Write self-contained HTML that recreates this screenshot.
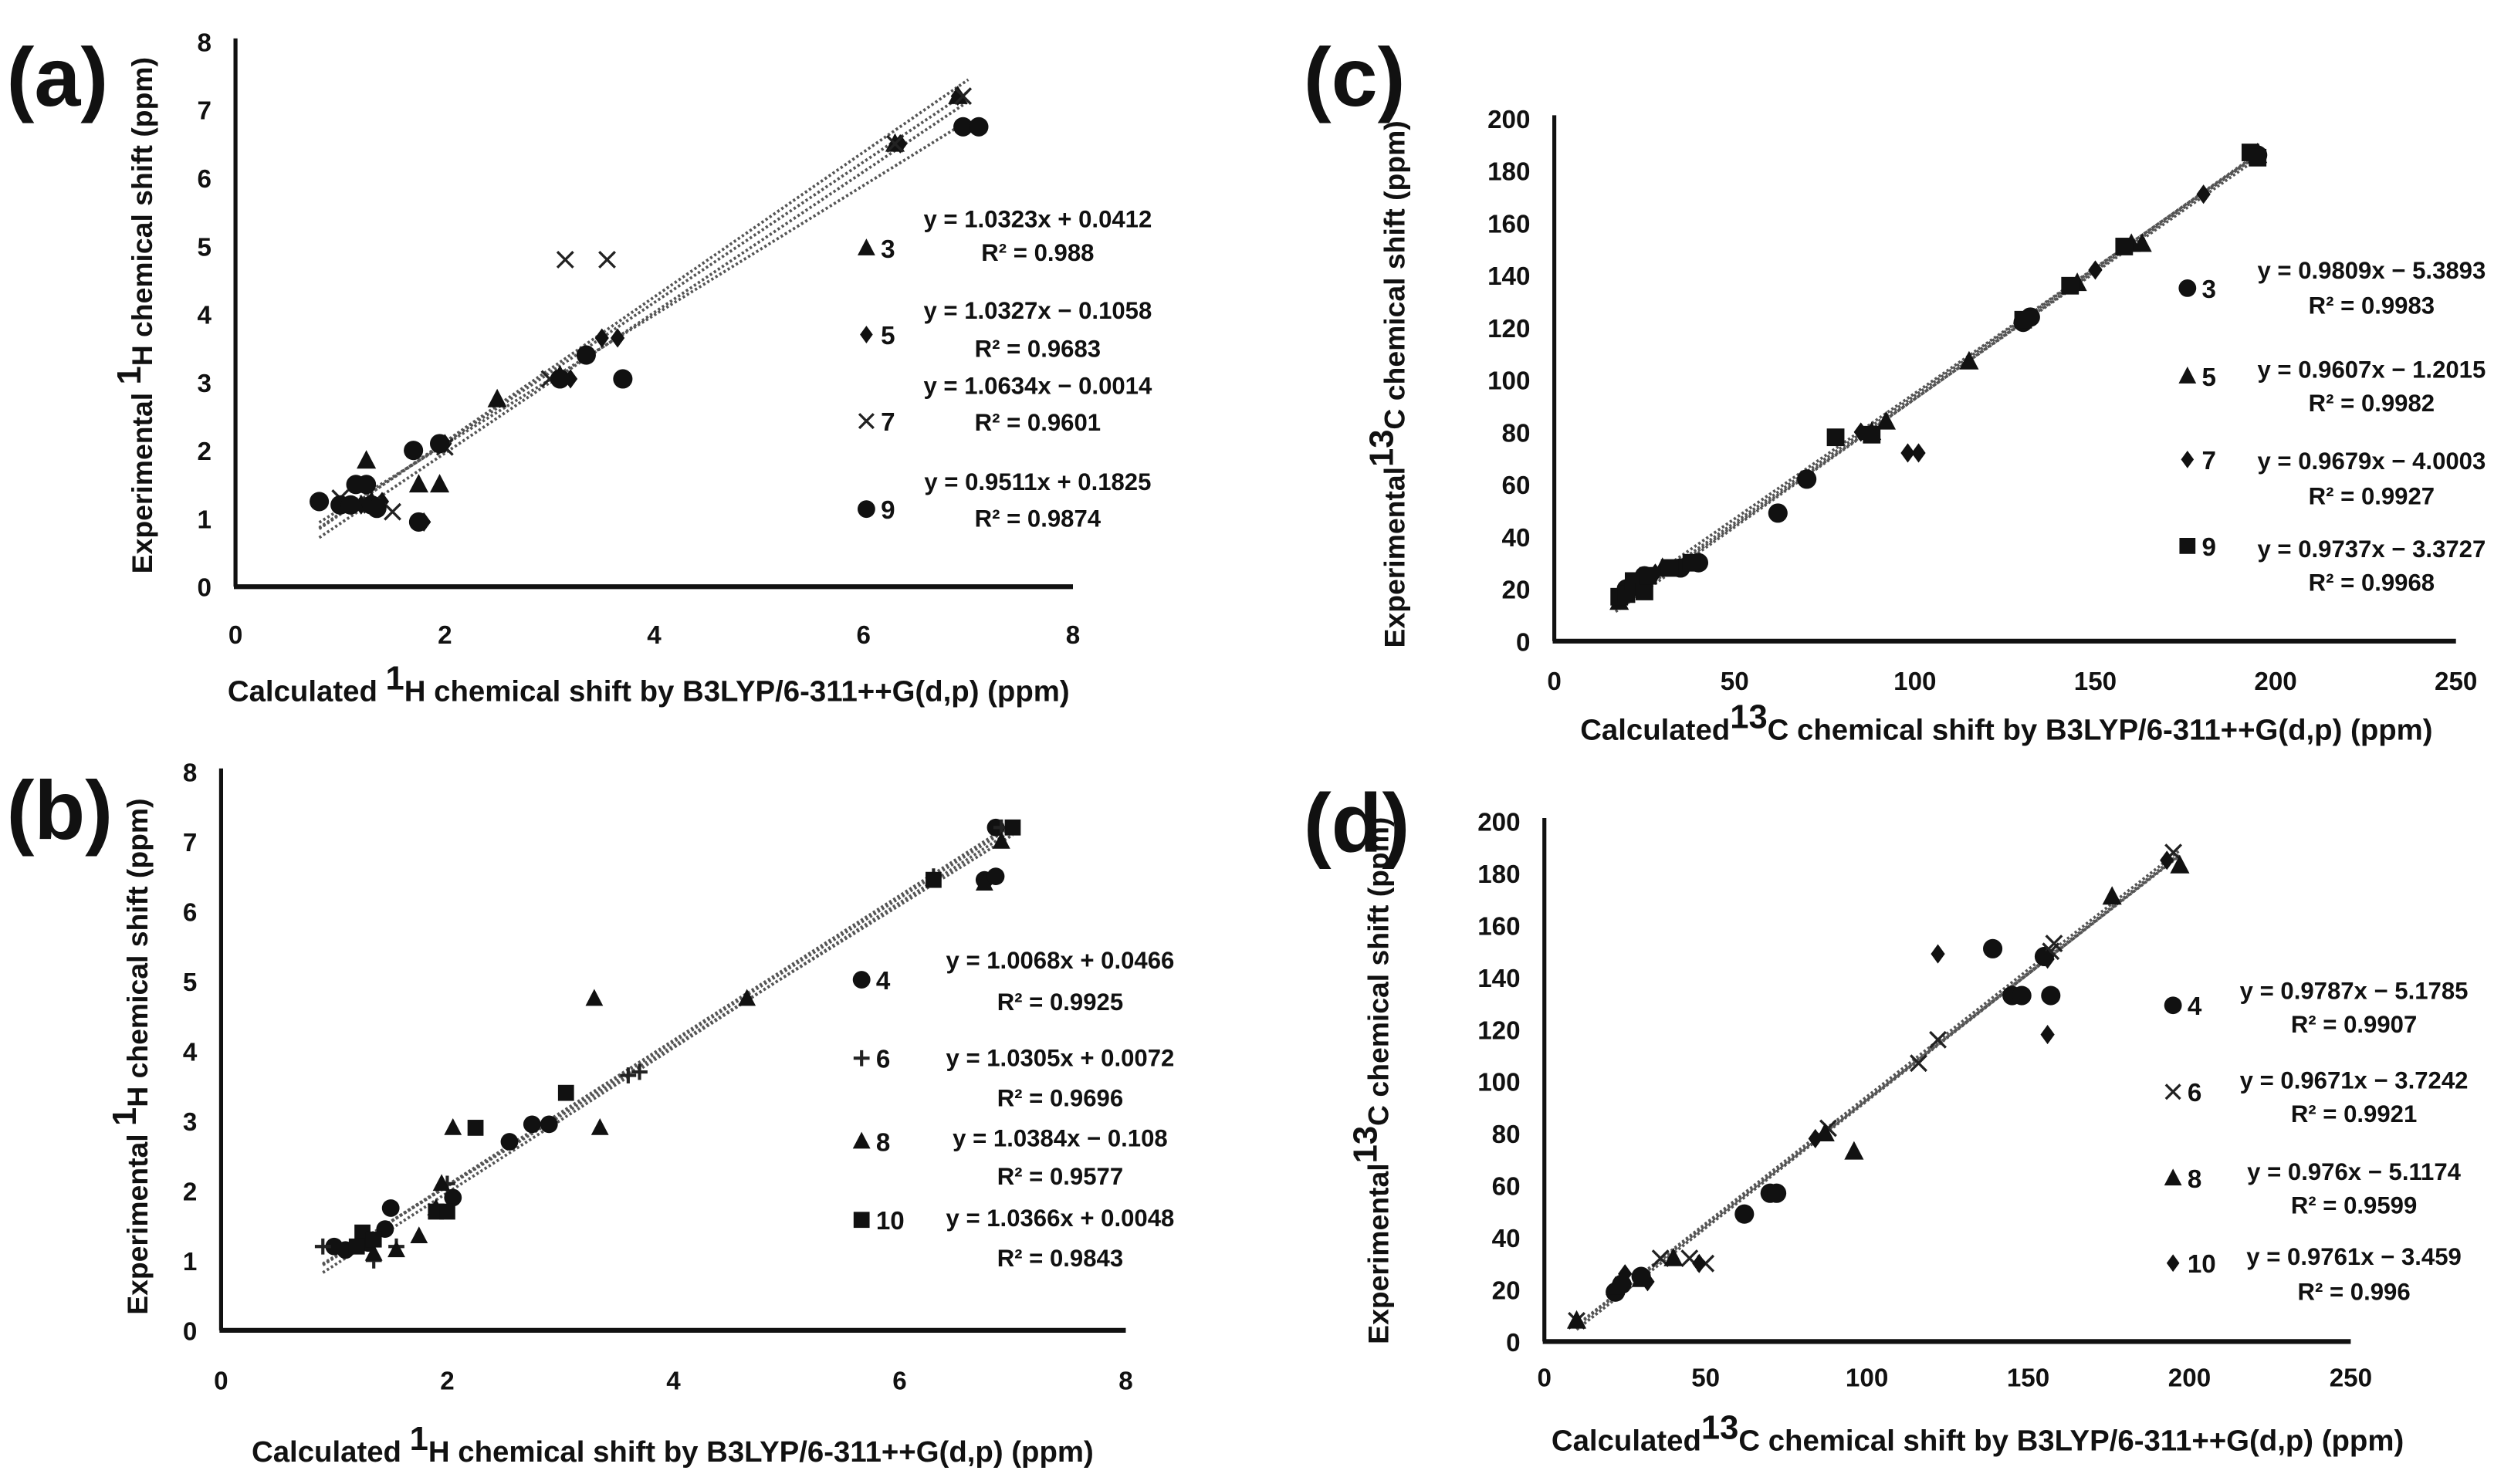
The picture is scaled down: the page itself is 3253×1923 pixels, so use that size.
<!DOCTYPE html>
<html><head><meta charset="utf-8"><style>
html,body{margin:0;padding:0;background:#fff;}
svg{display:block;}
text{font-family:"Liberation Sans Narrow","Liberation Sans",sans-serif;font-weight:bold;fill:#111;}
.yt{font-family:"Liberation Sans",sans-serif;}
</style></head><body>
<svg id="fig" width="3253" height="1923" viewBox="0 0 1568 927" xmlns="http://www.w3.org/2000/svg"></svg>
<script>
// ---------- data ----------
const a_s3_x=[1.25,1.75,1.95,2.5,6.3,6.9,1.3,3.1];
const a_s3_y=[1.85,1.5,1.5,2.75,6.5,7.2,1.25,3.1];
const a_s5_x=[1.2,1.4,2.0,3.5,3.65,6.35,6.9,1.75,1.8,3.2];
const a_s5_y=[1.2,1.25,2.1,3.65,3.65,6.5,7.2,0.95,0.95,3.05];
const a_s7_x=[1.0,1.5,2.0,3.0,3.15,3.55,6.95,6.3,1.3];
const a_s7_y=[1.3,1.1,2.05,3.05,4.8,4.8,7.2,6.5,1.2];
const a_s9_x=[0.8,1.0,1.1,1.15,1.3,1.35,1.7,1.95,3.1,3.35,3.7,6.95,7.1,1.75,1.25];
const a_s9_y=[1.25,1.2,1.2,1.5,1.2,1.15,2.0,2.1,3.05,3.4,3.05,6.75,6.75,0.95,1.5];
const a_slope=[1.0323,1.0327,1.0634,0.9511];
const a_icept=[0.0412,-0.1058,-0.0014,0.1825];

const b_s4_x=[1.0,1.1,1.45,1.5,2.05,2.55,2.75,2.9,6.75,6.85,6.85,1.3];
const b_s4_y=[1.2,1.15,1.45,1.75,1.9,2.7,2.95,2.95,6.45,6.5,7.2,1.25];
const b_s6_x=[0.9,1.35,1.55,3.6,3.7,6.3,6.9,2.0];
const b_s6_y=[1.2,1.0,1.2,3.65,3.7,6.5,7.2,2.1];
const b_s8_x=[1.35,1.55,1.75,1.95,2.05,3.3,3.35,4.65,6.75,6.9,1.9];
const b_s8_y=[1.1,1.15,1.35,2.1,2.9,4.75,2.9,4.75,6.4,7.0,1.75];
const b_s10_x=[1.25,1.35,1.9,2.0,2.25,3.05,6.3,7.0,1.2];
const b_s10_y=[1.4,1.3,1.7,1.7,2.9,3.4,6.45,7.2,1.2];
const b_slope=[1.0068,1.0305,1.0384,1.0366];
const b_icept=[0.0466,0.0072,-0.108,0.0048];

const c_s3_x=[20,25,35,40,62,70,130,132,195];
const c_s3_y=[20,25,28,30,49,62,122,124,186];
const c_s5_x=[18,22,30,88,92,115,145,160,163,195];
const c_s5_y=[15,22,28,80,84,107,137,152,152,186];
const c_s7_x=[22,28,85,98,101,180,150,195];
const c_s7_y=[20,26,80,72,72,171,142,187];
const c_s9_x=[18,20,22,25,26,32,38,78,88,130,143,158,193,195];
const c_s9_y=[17,18,23,19,25,28,30,78,79,123,136,151,187,185];
const c_slope=[0.9809,0.9607,0.9679,0.9737];
const c_icept=[-5.3893,-1.2015,-4.0003,-3.3727];

const d_s4_x=[22,24,30,62,70,72,139,145,148,157,155];
const d_s4_y=[19,22,25,49,57,57,151,133,133,133,148];
const d_s6_x=[36,45,50,88,116,122,157,158,195,10];
const d_s6_y=[32,32,30,82,107,116,150,153,188,8];
const d_s8_x=[22,30,40,87,96,176,197,10];
const d_s8_y=[21,24,32,80,73,171,183,8];
const d_s10_x=[25,32,48,84,122,156,156,193];
const d_s10_y=[26,23,30,78,149,118,147,185];
const d_slope=[0.9787,0.9671,0.976,0.9761];
const d_icept=[-5.1785,-3.7242,-5.1174,-3.459];

const hTicks=[0,1,2,3,4,5,6,7,8];
const hXTicks=[0,2,4,6,8];
const cYTicks=[0,20,40,60,80,100,120,140,160,180,200];
const cXTicks=[0,50,100,150,200,250];

// ---------- drawing ----------
const NS="http://www.w3.org/2000/svg";
const svg=document.getElementById('fig');
function el(tag,attrs,parent,txt){const e=document.createElementNS(NS,tag);for(const k in attrs)e.setAttribute(k,attrs[k]);if(txt!==undefined)e.textContent=txt;(parent||svg).appendChild(e);return e;}

function marker(g,type,cx,cy,s){
  let m;
  if(type==='circle'){m=el('circle',{cx:cx,cy:cy,r:s*0.55,fill:'#111'},g);}
  else if(type==='triangle'){m=el('polygon',{points:`${cx},${cy-s*0.6} ${cx-s*0.55},${cy+s*0.45} ${cx+s*0.55},${cy+s*0.45}`,fill:'#111'},g);}
  else if(type==='diamond'){m=el('polygon',{points:`${cx},${cy-s*0.55} ${cx+s*0.4},${cy} ${cx},${cy+s*0.55} ${cx-s*0.4},${cy}`,fill:'#111'},g);}
  else if(type==='square'){m=el('rect',{x:cx-s*0.5,y:cy-s*0.5,width:s,height:s,fill:'#111'},g);}
  else if(type==='x'){m=el('path',{d:`M${cx-s*0.45},${cy-s*0.45}L${cx+s*0.45},${cy+s*0.45}M${cx+s*0.45},${cy-s*0.45}L${cx-s*0.45},${cy+s*0.45}`,stroke:'#222','stroke-width':1.6,fill:'none'},g);}
  else if(type==='plus'){m=el('path',{d:`M${cx-s*0.5},${cy}L${cx+s*0.5},${cy}M${cx},${cy-s*0.5}L${cx},${cy+s*0.5}`,stroke:'#222','stroke-width':2,fill:'none'},g);}
  return m;
}

function panel(P){
  const g=el('g',{});
  
  
  const sx=v=>P.x0+(v-P.xmin)/(P.xmax-P.xmin)*(P.x1-P.x0);
  const sy=v=>P.y0-(v-P.ymin)/(P.ymax-P.ymin)*(P.y0-P.y1);
  const lab=el('text',{x:P.lx,y:P.ly,'font-size':52,class:'yt'},g,'('+P.id+')');
  
  
  const ya=el('line',{x1:P.x0,y1:P.y0,x2:P.x0,y2:P.y1-2,stroke:'#111','stroke-width':2.5},g);
  
  const xa=el('line',{x1:P.x0-1,y1:P.y0,x2:P.x1,y2:P.y0,stroke:'#111','stroke-width':3},g);
  
  P.yticks.forEach(t=>{const e=el('text',{x:P.x0-15,y:sy(t)+6,'font-size':16,'text-anchor':'end'},g,String(t));
    });
  P.xticks.forEach(t=>{const e=el('text',{x:sx(t),y:P.xly,'font-size':16,'text-anchor':'middle'},g,String(t));
    });
  const yt=el('text',{transform:`translate(${P.ytx},${P.yty}) rotate(-90)`,'font-size':18,'text-anchor':'middle',class:'yt'},g);
  
  el('tspan',{},yt,P.ytA);
  el('tspan',{'font-size':21,'baseline-shift':'7'},yt,P.sup);
  el('tspan',{},yt,P.ytB);
  const xt=el('text',{x:P.xtx,y:P.xty,'font-size':18.5,'text-anchor':'middle'},g);
  
  el('tspan',{},xt,P.xtA);
  el('tspan',{'font-size':21,'baseline-shift':'7'},xt,P.sup);
  el('tspan',{},xt,P.xtB);
  P.series.forEach((s,i)=>{
    const l=el('line',{x1:sx(P.tx0),y1:sy(P.slope[i]*P.tx0+P.icept[i]),x2:sx(P.tx1),y2:sy(P.slope[i]*P.tx1+P.icept[i]),stroke:'#555','stroke-width':1.8,'stroke-dasharray':'1.5 1.5'},g);
    
    
  });
  P.series.forEach(s=>{
    s.xs.forEach((xv,j)=>{
      const m=marker(g,s.type,sx(xv),sy(s.ys[j]),P.ms);
      
      
    });
  });
  P.series.forEach((s,i)=>{
    const L=P.leg[i];
    const m=marker(g,s.type,P.mx,L[0],10);
    
    
    const t=el('text',{x:P.mx+9,y:L[0]+6,'font-size':16},g,s.name);
    
    
    const sgn=P.icept[i]<0?' − ':' + ';
    const e1=el('text',{x:P.ex,y:L[1]+5,'font-size':15,'text-anchor':'middle'},g,'y = '+P.slope[i]+'x'+sgn+Math.abs(P.icept[i]));
    
    
    const e2=el('text',{x:P.ex,y:L[2]+5,'font-size':15,'text-anchor':'middle'},g,'R² = '+P.r2[i]);
    
    
  });
}

panel({id:'a',lx:4,ly:66,x0:147,x1:670,y0:366.5,y1:26,xmin:0,xmax:8,ymin:0,ymax:8,yticks:hTicks,xticks:hXTicks,xly:402,
  ytx:95,yty:197,ytA:'Experimental ',sup:'1',ytB:'H chemical shift (ppm)',xtx:405,xty:438,xtA:'Calculated ',xtB:'H chemical shift by B3LYP/6-311++G(d,p) (ppm)',
  tx0:0.8,tx1:7.0,slope:a_slope,icept:a_icept,r2:['0.988','0.9683','0.9601','0.9874'],ms:11,mx:541,ex:648,
  leg:[[155,137,158],[209,194,218],[263,241,264],[318,301,324]],
  series:[{name:'3',type:'triangle',xs:a_s3_x,ys:a_s3_y},{name:'5',type:'diamond',xs:a_s5_x,ys:a_s5_y},{name:'7',type:'x',xs:a_s7_x,ys:a_s7_y},{name:'9',type:'circle',xs:a_s9_x,ys:a_s9_y}]});

panel({id:'b',lx:4,ly:524,x0:138,x1:703,y0:831,y1:482,xmin:0,xmax:8,ymin:0,ymax:8,yticks:hTicks,xticks:hXTicks,xly:868,
  ytx:92,yty:660,ytA:'Experimental ',sup:'1',ytB:'H chemical shift (ppm)',xtx:420,xty:913,xtA:'Calculated ',xtB:'H chemical shift by B3LYP/6-311++G(d,p) (ppm)',
  tx0:0.9,tx1:7.0,slope:b_slope,icept:b_icept,r2:['0.9925','0.9696','0.9577','0.9843'],ms:10,mx:538,ex:662,
  leg:[[612,600,626],[661,661,686],[713,711,735],[762,761,786]],
  series:[{name:'4',type:'circle',xs:b_s4_x,ys:b_s4_y},{name:'6',type:'plus',xs:b_s6_x,ys:b_s6_y},{name:'8',type:'triangle',xs:b_s8_x,ys:b_s8_y},{name:'10',type:'square',xs:b_s10_x,ys:b_s10_y}]});

panel({id:'c',lx:814,ly:66,x0:970.6,x1:1533.7,y0:400.5,y1:74,xmin:0,xmax:250,ymin:0,ymax:200,yticks:cYTicks,xticks:cXTicks,xly:431,
  ytx:877,yty:240,ytA:'Experimental',sup:'13',ytB:'C chemical shift (ppm)',xtx:1253,xty:462,xtA:'Calculated',xtB:'C chemical shift by B3LYP/6-311++G(d,p) (ppm)',
  tx0:17,tx1:195,slope:c_slope,icept:c_icept,r2:['0.9983','0.9982','0.9927','0.9968'],ms:11,mx:1366,ex:1481,
  leg:[[180,169,191],[235,231,252],[287,288,310],[341,343,364]],
  series:[{name:'3',type:'circle',xs:c_s3_x,ys:c_s3_y},{name:'5',type:'triangle',xs:c_s5_x,ys:c_s5_y},{name:'7',type:'diamond',xs:c_s7_x,ys:c_s7_y},{name:'9',type:'square',xs:c_s9_x,ys:c_s9_y}]});

panel({id:'d',lx:814,ly:532,x0:964.4,x1:1468,y0:838,y1:513,xmin:0,xmax:250,ymin:0,ymax:200,yticks:cYTicks,xticks:cXTicks,xly:866,
  ytx:867,yty:675,ytA:'Experimental',sup:'13',ytB:'C chemical shift (ppm)',xtx:1235,xty:906,xtA:'Calculated',xtB:'C chemical shift by B3LYP/6-311++G(d,p) (ppm)',
  tx0:10,tx1:197,slope:d_slope,icept:d_icept,r2:['0.9907','0.9921','0.9599','0.996'],ms:11,mx:1357,ex:1470,
  leg:[[628,619,640],[682,675,696],[736,732,753],[789,785,807]],
  series:[{name:'4',type:'circle',xs:d_s4_x,ys:d_s4_y},{name:'6',type:'x',xs:d_s6_x,ys:d_s6_y},{name:'8',type:'triangle',xs:d_s8_x,ys:d_s8_y},{name:'10',type:'diamond',xs:d_s10_x,ys:d_s10_y}]});
</script>
</body></html>
